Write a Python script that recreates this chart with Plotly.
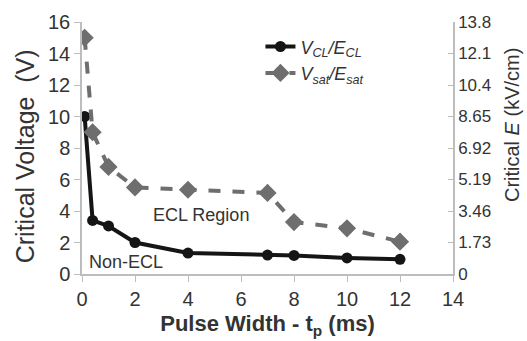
import plotly.graph_objects as go

pulse_width = [0.1, 0.4, 1, 2, 4, 7, 8, 10, 12]
v_cl = [10, 3.4, 3.05, 2.0, 1.33, 1.2, 1.18, 1.02, 0.93]
v_sat = [15, 9, 6.8, 5.5, 5.35, 5.15, 3.3, 2.9, 2.05]
y_ticks = [0, 2, 4, 6, 8, 10, 12, 14, 16]
e_tick_labels = ["0", "1.73", "3.46", "5.19", "6.92", "8.65", "10.4", "12.1", "13.8"]

FONT = "Liberation Sans, Arial, sans-serif"
TXT = "#333333"
AX = "#bdbdbd"

fig = go.Figure()
fig.add_trace(go.Scatter(
    x=pulse_width, y=v_cl, mode="lines+markers",
    name="<i>V<sub>CL</sub>/E<sub>CL</sub></i>",
    line=dict(color="#151515", width=4),
    marker=dict(symbol="circle", size=11, color="#151515"),
))
fig.add_trace(go.Scatter(
    x=pulse_width, y=v_sat, mode="lines+markers",
    name="<i>V<sub>sat</sub>/E<sub>sat</sub></i>",
    line=dict(color="#6e6e6e", width=4, dash="dash"),
    marker=dict(symbol="diamond", size=14, color="#6e6e6e"),
))
# invisible trace to activate right axis
fig.add_trace(go.Scatter(x=[0], y=[0], yaxis="y2", mode="markers",
                         marker=dict(opacity=0), showlegend=False, hoverinfo="skip"))

fig.update_layout(
    width=527, height=341,
    margin=dict(l=82, r=74, t=22, b=67, autoexpand=False),
    paper_bgcolor="white", plot_bgcolor="white",
    font=dict(family=FONT, color=TXT),
    xaxis=dict(
        range=[0, 14], tickvals=[0, 2, 4, 6, 8, 10, 12, 14], automargin=False,
        showgrid=False, zeroline=False, showline=True, linecolor=AX, linewidth=1.5,
        ticks="outside", ticklen=6, tickcolor=AX,
        tickfont=dict(size=20, color=TXT),
        title=dict(text="<b>Pulse Width - t<sub>p</sub> (ms)</b>", font=dict(size=22, color=TXT), standoff=7),
    ),
    yaxis=dict(
        range=[0, 16], tickvals=y_ticks, automargin=False,
        showgrid=False, zeroline=False, showline=True, linecolor=AX, linewidth=1.5,
        ticks="outside", ticklen=6, tickcolor=AX,
        tickfont=dict(size=20, color=TXT),
    ),
    yaxis2=dict(
        range=[0, 16], tickvals=y_ticks, ticktext=e_tick_labels, automargin=False,
        overlaying="y", side="right",
        showgrid=False, zeroline=False, showline=True, linecolor=AX, linewidth=1.5,
        ticks="inside", ticklen=5, tickcolor=AX,
        tickfont=dict(size=17, color=TXT),
    ),
    legend=dict(x=0.481, y=0.975, xanchor="left", yanchor="top",
                bgcolor="rgba(0,0,0,0)", font=dict(size=18, color=TXT),
                tracegroupgap=0, itemwidth=30),
    showlegend=True,
)
# axis titles as annotations for precise placement
fig.add_annotation(x=-0.153, y=0.468, xref="paper", yref="paper", text="Critical Voltage  (V)",
                   textangle=-90, showarrow=False, font=dict(size=25, color=TXT),
                   xanchor="center", yanchor="middle")
fig.add_annotation(x=1.159, y=0.591, xref="paper", yref="paper", text="Critical <i>E</i> (kV/cm)",
                   textangle=-90, showarrow=False, font=dict(size=20, color=TXT),
                   xanchor="center", yanchor="middle")
fig.add_annotation(x=4.5, y=3.75, xref="x", yref="y", text="ECL Region",
                   showarrow=False, font=dict(size=18, color=TXT), yanchor="middle")
fig.add_annotation(x=0.18, y=0.76, xref="x", yref="y", text="Non-ECL", xanchor="left",
                   showarrow=False, font=dict(size=18, color=TXT), yanchor="middle")

fig.write_html("out.html")
